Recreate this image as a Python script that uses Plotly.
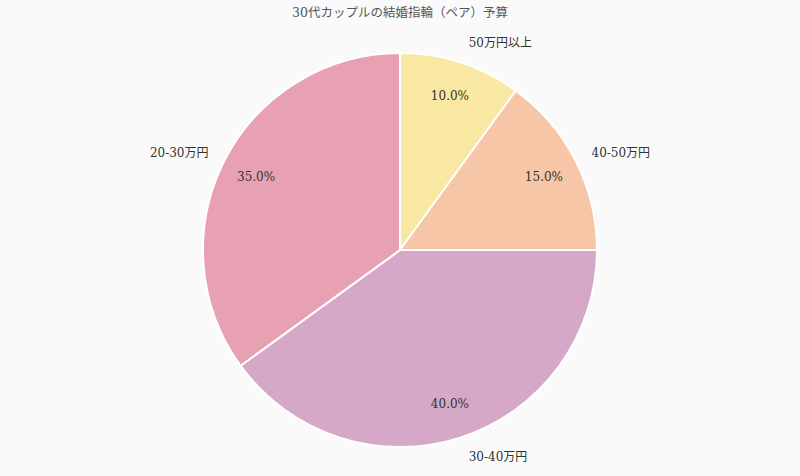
import plotly.graph_objects as go

categories = ["50万円以上", "40-50万円", "30-40万円", "20-30万円"]
values = [10, 15, 40, 35]
colors = ["#f8e8a1", "#f6c6a6", "#d5a8c8", "#e8a1b3"]
title = "30代カップルの結婚指輪（ペア）予算"

font_family = "DejaVu Serif, Liberation Serif, Noto Sans CJK JP, serif"
H = 476.0

def dom(cy, r):
    return [(H - (cy + r)) / H, (H - (cy - r)) / H]

fig = go.Figure()
# colored slices
fig.add_trace(go.Pie(
    labels=categories, values=values, sort=False, direction="clockwise", rotation=0,
    marker=dict(colors=colors, line=dict(color="white", width=2)),
    textinfo="none", hoverinfo="label+percent", showlegend=False,
    domain=dict(x=[0, 1], y=dom(250, 197)),
))
# percentage labels in outer ring
fig.add_trace(go.Pie(
    labels=categories, values=values, sort=False, direction="clockwise", rotation=0,
    hole=0.64,
    marker=dict(colors=["rgba(0,0,0,0)"] * 4, line=dict(width=0)),
    textinfo="percent", textposition="inside", insidetextorientation="horizontal",
    texttemplate="%{percent:.1%}",
    textfont=dict(family=font_family, size=12, color="#333333"),
    hoverinfo="skip", showlegend=False,
    domain=dict(x=[0, 1], y=dom(250, 197)),
))
# outside category labels
fig.add_trace(go.Pie(
    labels=categories, values=values, sort=False, direction="clockwise", rotation=0,
    marker=dict(colors=["rgba(0,0,0,0)"] * 4, line=dict(width=0)),
    textinfo="label", textposition="outside",
    textfont=dict(family=font_family, size=12, color="#333333"),
    hoverinfo="skip", showlegend=False,
    domain=dict(x=[0, 1], y=dom(250, 211)),
))
fig.update_layout(
    width=800, height=476,
    paper_bgcolor="#fafafa", plot_bgcolor="#fafafa",
    margin=dict(l=0, r=0, t=0, b=0, autoexpand=False),
    title=dict(text=title, x=0.5, xanchor="center", y=1 - 13 / H, yanchor="middle",
               font=dict(family=font_family, size=12.5, color="#555555")),
)
fig.write_html("out.html", config={"displayModeBar": False},
               post_script="document.body.style.margin='0';")
